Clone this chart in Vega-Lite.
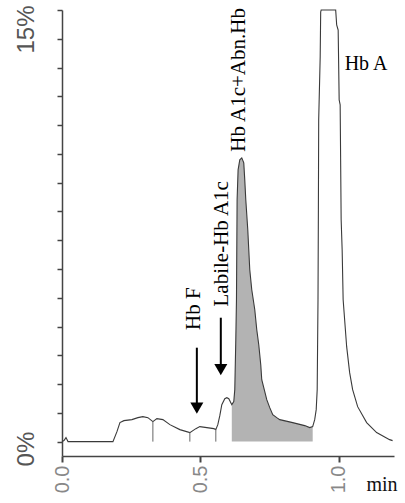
{
  "$schema": "https://vega.github.io/schema/vega-lite/v6.json",
  "width": 332,
  "height": 446,
  "autosize": {"type": "none"},
  "padding": {"left": 62, "top": 10, "right": 11, "bottom": 47},
  "background": "white",
  "view": {"stroke": null},
  "datasets": {
    "trace": [
      {"t": 0, "pct": 0}, {"t": 0.0072, "pct": 0.035}, {"t": 0.0144, "pct": 0.139}, {"t": 0.0217, "pct": 0},
      {"t": 0.1841, "pct": 0}, {"t": 0.1986, "pct": 0.347}, {"t": 0.2094, "pct": 0.66}, {"t": 0.2238, "pct": 0.729},
      {"t": 0.2527, "pct": 0.764}, {"t": 0.2744, "pct": 0.833}, {"t": 0.2924, "pct": 0.868}, {"t": 0.3105, "pct": 0.833},
      {"t": 0.3285, "pct": 0.694}, {"t": 0.343, "pct": 0.799}, {"t": 0.3646, "pct": 0.764}, {"t": 0.3899, "pct": 0.59},
      {"t": 0.426, "pct": 0.417}, {"t": 0.4621, "pct": 0.313}, {"t": 0.4838, "pct": 0.451}, {"t": 0.4982, "pct": 0.521},
      {"t": 0.5235, "pct": 0.486}, {"t": 0.5487, "pct": 0.451}, {"t": 0.556, "pct": 0.417}, {"t": 0.5632, "pct": 0.59},
      {"t": 0.5704, "pct": 0.903}, {"t": 0.5776, "pct": 1.285}, {"t": 0.5884, "pct": 1.493}, {"t": 0.5957, "pct": 1.528},
      {"t": 0.6029, "pct": 1.493}, {"t": 0.6101, "pct": 1.354}, {"t": 0.6137, "pct": 1.285}, {"t": 0.6209, "pct": 1.389},
      {"t": 0.6245, "pct": 1.806}, {"t": 0.6282, "pct": 3.542}, {"t": 0.6306, "pct": 4.931}, {"t": 0.6329, "pct": 8.403},
      {"t": 0.6365, "pct": 9.444}, {"t": 0.6426, "pct": 9.792}, {"t": 0.6498, "pct": 9.861}, {"t": 0.657, "pct": 9.688},
      {"t": 0.6606, "pct": 9.097}, {"t": 0.6643, "pct": 8.403}, {"t": 0.6715, "pct": 7.361}, {"t": 0.6751, "pct": 6.667},
      {"t": 0.6787, "pct": 5.972}, {"t": 0.6859, "pct": 5.278}, {"t": 0.6968, "pct": 4.583}, {"t": 0.704, "pct": 3.889},
      {"t": 0.7112, "pct": 3.368}, {"t": 0.7184, "pct": 2.674}, {"t": 0.722, "pct": 2.153}, {"t": 0.7329, "pct": 1.736},
      {"t": 0.7401, "pct": 1.458}, {"t": 0.7509, "pct": 1.181}, {"t": 0.7617, "pct": 0.938}, {"t": 0.7762, "pct": 0.833},
      {"t": 0.787, "pct": 0.764}, {"t": 0.8339, "pct": 0.66}, {"t": 0.8773, "pct": 0.556}, {"t": 0.8953, "pct": 0.486},
      {"t": 0.9061, "pct": 0.521}, {"t": 0.9134, "pct": 0.764}, {"t": 0.9188, "pct": 1.111}, {"t": 0.9224, "pct": 1.806},
      {"t": 0.9253, "pct": 4.931}, {"t": 0.9267, "pct": 8.056}, {"t": 0.9278, "pct": 11.181}, {"t": 0.9332, "pct": 13.368},
      {"t": 0.935, "pct": 14.931}, {"t": 0.9368, "pct": 15}, {"t": 0.9892, "pct": 15}, {"t": 0.9928, "pct": 14.479},
      {"t": 0.9982, "pct": 14.306}, {"t": 1.0018, "pct": 11.875}, {"t": 1.0054, "pct": 11.701}, {"t": 1.009, "pct": 7.708},
      {"t": 1.0126, "pct": 6.667}, {"t": 1.0162, "pct": 4.931}, {"t": 1.0289, "pct": 3.299}, {"t": 1.0397, "pct": 2.396},
      {"t": 1.0505, "pct": 1.806}, {"t": 1.0686, "pct": 1.215}, {"t": 1.1011, "pct": 0.66}, {"t": 1.1372, "pct": 0.313},
      {"t": 1.1841, "pct": 0.069}, {"t": 1.1949, "pct": 0.035}
    ],
    "drops": [
      {"t": 0.3285, "pct": 0.694},
      {"t": 0.4621, "pct": 0.313},
      {"t": 0.556, "pct": 0.417}
    ],
    "arrows": [
      {"t": 0.4874, "pct": 3.264, "head": 1.163},
      {"t": 0.574, "pct": 4.306, "head": 2.5}
    ],
    "vlabels": [
      {"t": 0.4982, "pct": 4.618, "label": "Hb F"},
      {"t": 0.5993, "pct": 6.875, "label": "Labile-Hb A1c"},
      {"t": 0.6606, "pct": 12.57, "label": "Hb A1c+Abn.Hb"}
    ],
    "hlabels": [
      {"t": 1.0217, "pct": 12.917, "label": "Hb A"}
    ]
  },
  "encoding": {
    "x": {
      "field": "t", "type": "quantitative",
      "scale": {"domain": [0, 1.2], "nice": false, "zero": false},
      "axis": {
        "values": [0, 0.5, 1.0], "format": ".1f", "grid": false,
        "labelAngle": 270, "labelAlign": "right", "labelBaseline": "middle",
        "labelFont": "Liberation Sans", "labelFontSize": 20, "labelColor": "#888",
        "labelPadding": 3, "tickSize": 6, "tickWidth": 2, "tickColor": "#444",
        "domainColor": "#444", "domainWidth": 1.5, "labelFlush": false, "labelOverlap": false,
        "title": "min", "titleFont": "Liberation Serif", "titleFontSize": 20, "titleFontWeight": "normal",
        "titleColor": "#111", "titleAngle": 0, "titleX": 335, "titleY": 34, "titleAlign": "right", "titleBaseline": "alphabetic"
      }
    },
    "y": {
      "field": "pct", "type": "quantitative",
      "scale": {"domain": [-0.5, 15], "nice": false, "zero": false},
      "axis": {
        "values": [0, 1, 2, 3, 4, 5, 6, 7, 8, 9, 10, 11, 12, 13, 14, 15],
        "labelExpr": "datum.value == 15 ? '15%' : (datum.value == 0 ? '0%' : '')",
        "grid": false, "title": null,
        "labelAngle": 270, "labelAlign": "center", "labelBaseline": "alphabetic",
        "labelFont": "Liberation Sans", "labelFontSize": 24, "labelColor": "#555",
        "labelPadding": 24,
        "labelOffset": {"condition": {"test": "datum.value == 15", "value": 19}, "value": 7},
        "tickSize": 5, "tickWidth": 1.5, "tickColor": "#444",
        "domainColor": "#444", "domainWidth": 1.5, "labelFlush": false, "labelOverlap": false, "labelBound": false
      }
    }
  },
  "layer": [
    {
      "data": {"name": "trace"},
      "transform": [{"filter": "datum.t >= 0.6137 && datum.t <= 0.9061"}],
      "mark": {"type": "area", "color": "#b3b3b3", "opacity": 1}
    },
    {
      "data": {"name": "trace"},
      "mark": {"type": "line", "color": "#3a3a3a", "strokeWidth": 1.1}
    },
    {
      "data": {"name": "drops"},
      "mark": {"type": "rule", "color": "#666", "strokeWidth": 1},
      "encoding": {"y2": {"datum": 0}}
    },
    {
      "data": {"name": "arrows"},
      "mark": {"type": "rule", "color": "#000", "strokeWidth": 2},
      "encoding": {"y2": {"field": "head"}}
    },
    {
      "data": {"name": "arrows"},
      "mark": {"type": "point", "shape": "triangle-down", "filled": true, "color": "#000", "size": 170, "opacity": 1},
      "encoding": {"y": {"field": "head", "type": "quantitative"}}
    },
    {
      "data": {"name": "vlabels"},
      "mark": {"type": "text", "angle": 270, "align": "center", "baseline": "alphabetic", "font": "Liberation Serif", "fontSize": 21, "color": "#000"},
      "encoding": {"text": {"field": "label"}}
    },
    {
      "data": {"name": "hlabels"},
      "mark": {"type": "text", "align": "left", "baseline": "alphabetic", "font": "Liberation Serif", "fontSize": 20, "color": "#000"},
      "encoding": {"text": {"field": "label"}}
    }
  ]
}
